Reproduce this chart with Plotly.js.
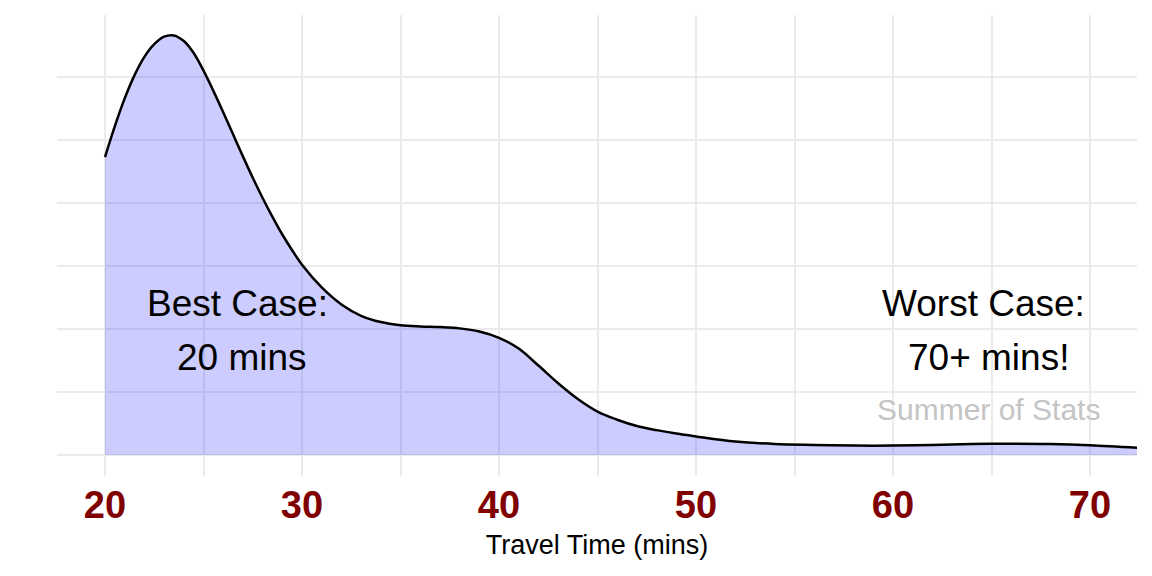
<!DOCTYPE html>
<html>
<head>
<meta charset="utf-8">
<script src="https://cdn.plot.ly/plotly-3.0.1.min.js"></script>
<style>html,body{margin:0;padding:0;background:#fff;}</style>
</head>
<body>
<div id="chart" style="width:1152px;height:576px;"></div>
<script>
// Travel time (mins) and estimated density (arbitrary units)
const travelTime = [20, 20.5, 21, 21.5, 22, 22.5, 23, 23.5, 24, 24.5, 25, 25.5, 26, 26.5, 27, 27.5, 28, 28.5, 29, 29.5, 30, 31, 32, 33, 34, 35, 36, 37, 38, 39, 40, 41, 42, 43, 44, 45, 46, 47, 48, 49, 50, 52, 54, 56, 58, 60, 62, 64, 66, 68, 70, 72.4];
const density = [47.3, 52.2, 56.6, 60.3, 63.2, 65.2, 66.4, 66.6, 65.7, 63.8, 61.0, 57.8, 54.4, 50.9, 47.4, 44.0, 40.8, 37.8, 35.0, 32.5, 30.2, 26.6, 23.9, 22.1, 21.1, 20.6, 20.4, 20.3, 20.1, 19.6, 18.6, 16.9, 14.2, 11.4, 8.9, 6.9, 5.6, 4.6, 3.95, 3.4, 2.95, 2.15, 1.75, 1.6, 1.5, 1.5, 1.6, 1.75, 1.8, 1.75, 1.55, 1.15];
const tickValues = [20, 30, 40, 50, 60, 70];
const tickLabels = ["20", "30", "40", "50", "60", "70"];
const xTitle = "Travel Time (mins)";
const notes = [
  {text: "Best Case:", x: 26.75, y: 24.1, size: 37, color: "#000000"},
  {text: "20 mins", x: 26.95, y: 15.4, size: 37, color: "#000000"},
  {text: "Worst Case:", x: 64.6, y: 24.1, size: 37, color: "#000000"},
  {text: "70+ mins!", x: 64.87, y: 15.4, size: 37, color: "#000000"},
  {text: "Summer of Stats", x: 64.87, y: 7.3, size: 30, color: "#c4c4c4"}
];

const FONT = "Liberation Sans, Arial, Helvetica, sans-serif";
const GRID = "#ebebeb";

const traces = [
  {
    x: travelTime, y: density, type: "scatter", mode: "lines",
    fill: "tozeroy", fillcolor: "rgba(0,0,255,0.2)",
    line: {width: 0, shape: "spline", smoothing: 1, color: "rgba(0,0,0,0)"},
    hoverinfo: "skip", showlegend: false
  },
  {
    x: travelTime, y: density, type: "scatter", mode: "lines",
    line: {width: 2.5, color: "#000000", shape: "spline", smoothing: 1},
    showlegend: false
  }
];

const layout = {
  width: 1152, height: 576,
  margin: {l: 57, r: 15, t: 15, b: 100},
  paper_bgcolor: "#ffffff", plot_bgcolor: "#ffffff",
  font: {family: FONT, color: "#000000"},
  showlegend: false,
  xaxis: {
    range: [17.563, 72.386],
    tickmode: "array", tickvals: tickValues, ticktext: tickLabels,
    tickfont: {family: FONT, size: 38, color: "#800000", weight: "bold"},
    showgrid: true, gridcolor: GRID, gridwidth: 2,
    minor: {dtick: 5, tick0: 0, showgrid: true, gridcolor: GRID, gridwidth: 2},
    zeroline: false, showline: false, ticks: "",
    ticklabelstandoff: 3,
    title: {text: xTitle, font: {family: FONT, size: 27, color: "#000000"}, standoff: 10},
    fixedrange: true
  },
  yaxis: {
    range: [-3.33, 69.84],
    tickmode: "linear", tick0: 0, dtick: 10,
    showticklabels: false, ticks: "",
    showgrid: true, gridcolor: GRID, gridwidth: 2,
    zeroline: false, showline: false,
    fixedrange: true
  },
  annotations: notes.map(n => ({
    text: n.text, x: n.x, y: n.y, xref: "x", yref: "y",
    showarrow: false, xanchor: "center", yanchor: "middle",
    font: {family: FONT, size: n.size, color: n.color}
  }))
};

Plotly.newPlot("chart", traces, layout, {displayModeBar: false, staticPlot: true});
</script>
</body>
</html>
